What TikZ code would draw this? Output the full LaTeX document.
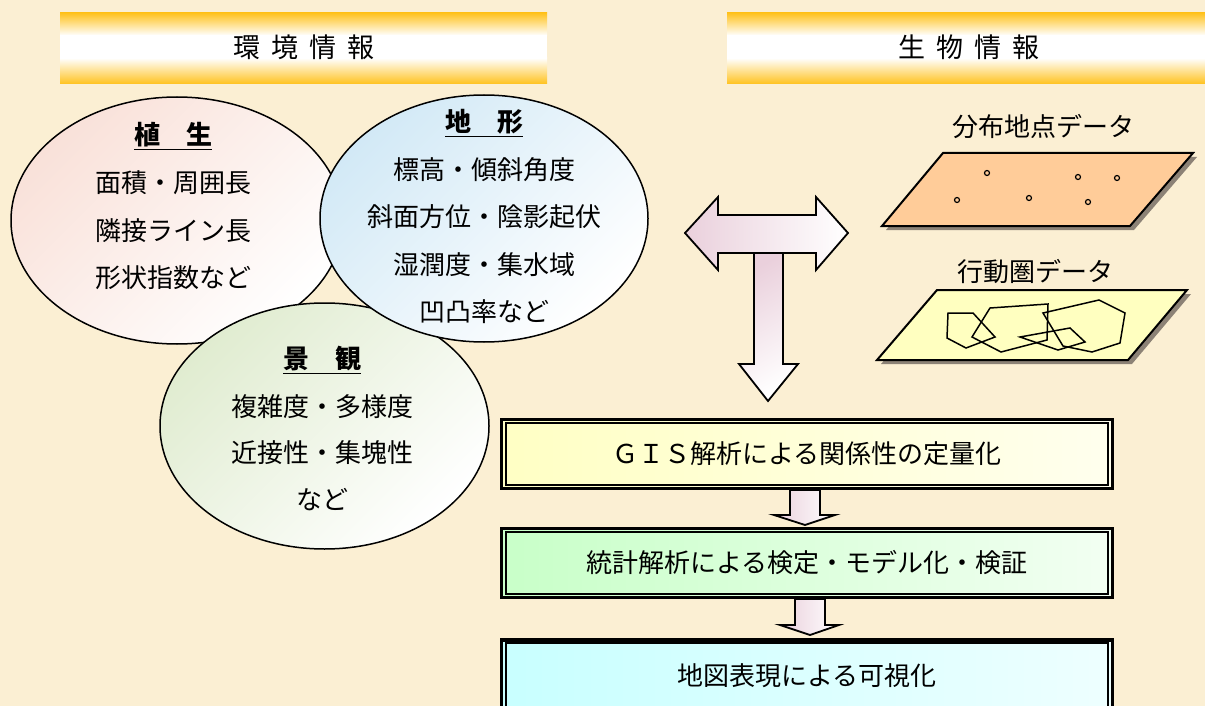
\documentclass[tikz,border=0pt]{standalone}
\usepackage{fontspec}
\setmainfont{Noto Sans CJK JP}
\usetikzlibrary{shapes.geometric,calc}
\definecolor{bg}{RGB}{251,239,211}
\definecolor{gold}{RGB}{255,194,30}
\definecolor{vegc}{RGB}{249,225,217}
\definecolor{terc}{RGB}{210,233,246}
\definecolor{lanc}{RGB}{224,236,208}
\definecolor{arrc}{RGB}{234,208,220}
\definecolor{orangep}{RGB}{255,204,153}
\definecolor{yellowp}{RGB}{255,255,192}
\definecolor{shadowc}{RGB}{140,130,118}
\definecolor{boxyl}{RGB}{255,255,196}
\definecolor{boxyr}{RGB}{255,255,238}
\definecolor{boxgl}{RGB}{200,255,200}
\definecolor{boxgr}{RGB}{242,255,242}
\definecolor{boxcl}{RGB}{200,255,255}
\definecolor{boxcr}{RGB}{238,255,255}
\tikzset{
  txt/.style={font=\fontsize{26}{30}\selectfont, inner sep=0pt},
  headtxt/.style={font=\fontsize{26}{30}\selectfont\bfseries, inner sep=0pt},
  bantxt/.style={font=\fontsize{27}{31}\selectfont, inner sep=0pt},
  ellnode/.style={ellipse, draw=black, line width=1.5pt, inner sep=0pt},
  flowbox/.style={draw=black, line width=3.3pt, inner sep=0pt,
     minimum width=610.6pt, font=\fontsize{26}{30}\selectfont},
  blockarrow/.style={draw=black, line width=1.8pt, line join=miter},
  plane/.style={draw=black, line width=2pt, line join=miter},
  poly/.style={draw=black, line width=1.5pt, line join=miter},
  dot/.style={draw=black, line width=1.2pt, fill=none}
}
\begin{document}
\begin{tikzpicture}[x=1pt,y=-1pt]
\useasboundingbox (0,0) rectangle (1205,706);
\fill[bg] (0,0) rectangle (1205,706);

% banners
\foreach \xa/\xb in {60/547, 727/1205}{
  \shade[top color=gold, bottom color=white] (\xa,13) rectangle (\xb,35.5);
  \fill[white] (\xa,35) rectangle (\xb,58.5);
  \shade[top color=white, bottom color=gold] (\xa,58) rectangle (\xb,84);
}
\node[bantxt] (env) at (304,47.5) {環\kern11pt境\kern11pt情\kern11pt報};
\node[bantxt] (bio) at (969,47.5) {生\kern11pt物\kern11pt情\kern11pt報};

% ellipses
\node[ellnode, minimum width=332pt, minimum height=247pt,
      top color=vegc, bottom color=white, shading angle=45] (veg) at (177,220.5) {};
\node[ellnode, minimum width=329pt, minimum height=246pt,
      top color=lanc, bottom color=white, shading angle=45] (land) at (324.5,426) {};
\node[ellnode, minimum width=328pt, minimum height=247pt,
      top color=terc, bottom color=white, shading angle=45] (terr) at (484,218.5) {};

% vegetation texts
\node[headtxt] (vegh) at (173,136) {\underline{植　生}};
\node[txt] (veg1) at (173,183) {面積・周囲長};
\node[txt] (veg2) at (173,231) {隣接ライン長};
\node[txt] (veg3) at (173,278) {形状指数など};
% terrain texts
\node[headtxt] (terh) at (484,123) {\underline{地　形}};
\node[txt] (ter1) at (484,170) {標高・傾斜角度};
\node[txt] (ter2) at (484,217) {斜面方位・陰影起伏};
\node[txt] (ter3) at (484,265) {湿潤度・集水域};
\node[txt] (ter4) at (484,312) {凹凸率など};
% landscape texts
\node[headtxt] (lanh) at (322,360) {\underline{景　観}};
\node[txt] (lan1) at (322,407) {複雑度・多様度};
\node[txt] (lan2) at (322,453) {近接性・集塊性};
\node[txt] (lan3) at (322,500) {など};

% T arrow
\path[blockarrow, left color=arrc, right color=white]
  (685,233) -- (718,197) -- (718,215) -- (816,215) -- (816,197) -- (848,233)
  -- (816,270) -- (816,253) -- (718,253) -- (718,270) -- cycle;
\path[blockarrow, top color=arrc, bottom color=white, shading angle=30]
  (754,253) -- (783,253) -- (783,364) -- (798,364) -- (768,401) -- (739,364)
  -- (754,364) -- cycle;

% distribution points plane
\node[txt] (ptlab) at (1043,127) {分布地点データ};
\fill[shadowc] (947,157) -- (1197,157) -- (1134,230) -- (886,230) -- cycle;
\path[plane, fill=orangep] (943,153) -- (1193,153) -- (1130,226) -- (882,226) -- cycle;
\foreach \px/\py in {987/173, 1078/177, 1117/178, 957/200, 1029/198, 1088/202}
  \draw[dot] (\px,\py) circle (2.5pt);

% home range plane
\node[txt] (hrlab) at (1035,272) {行動圏データ};
\fill[shadowc] (941,294) -- (1191,294) -- (1132,364) -- (881,364) -- cycle;
\path[plane, fill=yellowp] (937,290) -- (1187,290) -- (1128,360) -- (877,360) -- cycle;
\draw[poly] (948,313) -- (973,313) -- (995,337) -- (966,348) -- (947,338) -- cycle;
\draw[poly] (990,308) -- (1048,304) -- (1047,340) -- (1001,352) -- (972,337) -- cycle;
\draw[poly] (1043,313) -- (1099,300) -- (1125,313) -- (1120,343) -- (1092,352) -- (1063,346) -- cycle;
\draw[poly] (1020,337) -- (1070,328) -- (1085,342) -- (1058,350) -- cycle;

% flow boxes
\node[flowbox, minimum height=69.1pt, left color=boxyl, right color=boxyr]
  (gis) at (807,453.75) {ＧＩＳ解析による関係性の定量化};
\node[flowbox, minimum height=68.7pt, left color=boxgl, right color=boxgr]
  (stat) at (807,563) {統計解析による検定・モデル化・検証};
\node[flowbox, minimum height=72pt, left color=boxcl, right color=boxcr]
  (vis) at (807,676) {地図表現による可視化};
\foreach \b in {gis,stat,vis}
  \draw[line width=2pt] ($(\b.north west)+(6.2,5)$) rectangle ($(\b.south east)+(-6.2,-5)$);

% small arrows
\path[blockarrow, left color=arrc, right color=white]
  (790,490) -- (820,490) -- (820,515) -- (835,515) -- (805,525) -- (774,515)
  -- (790,515) -- cycle;
\path[blockarrow, left color=arrc, right color=white]
  (795,599) -- (825,599) -- (825,625) -- (839,625) -- (810,635) -- (780,625)
  -- (795,625) -- cycle;
\end{tikzpicture}
\end{document}
